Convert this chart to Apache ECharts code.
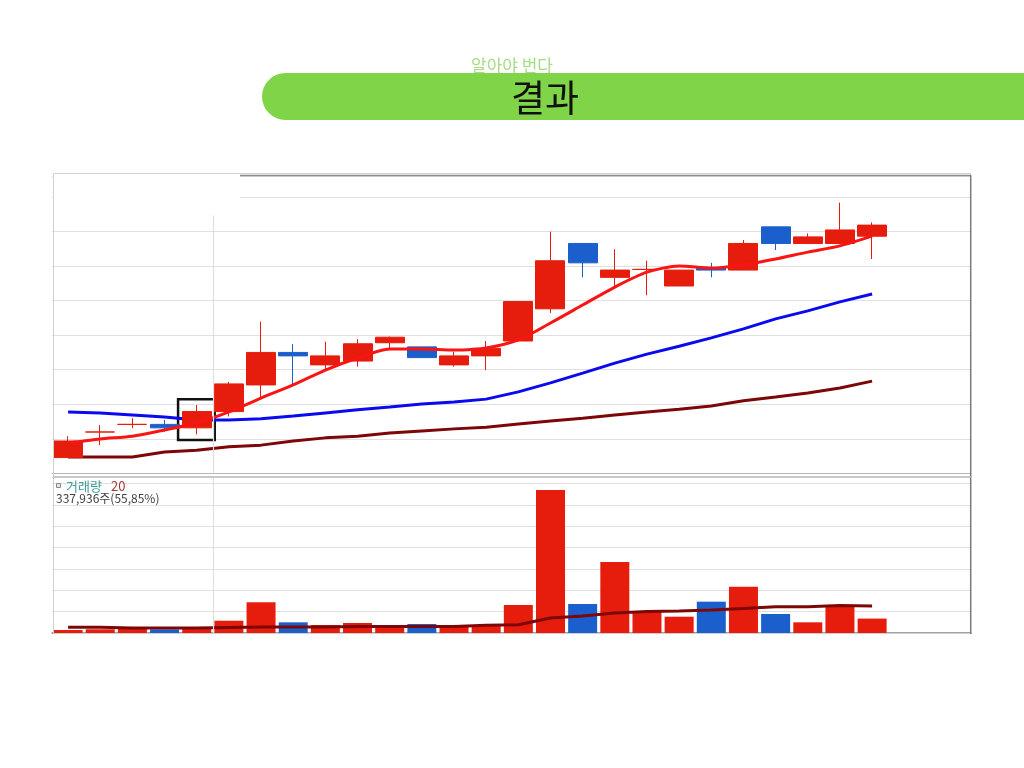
<!DOCTYPE html>
<html><head><meta charset="utf-8">
<script src="https://cdn.jsdelivr.net/npm/echarts@6/dist/echarts.min.js"></script>
<style>html,body{margin:0;padding:0;background:#fff}#c{width:1024px;height:768px}</style>
</head><body><div id="c"></div>
<script>
// ---- data ----
const days   = [0,1,2,3,4,5,6,7,8,9,10,11,12,13,14,15,16,17,18,19,20,21,22,23,24,25];
const opens  = [4046,4120,4142,4142,4132,4179,4256,4350,4314,4325,4378,4366,4314,4340,4383,4476,4665,4567,4590,4542,4593,4588,4713,4665,4665,4686];
const closes = [4094,4120,4142,4132,4179,4259,4350,4340,4340,4375,4394,4335,4340,4362,4497,4615,4609,4588,4590,4588,4588,4665,4665,4684,4704,4718];
const lows   = [4046,4082,4131,4121,4113,4165,4217,4256,4299,4309,4359,4335,4309,4299,4383,4464,4567,4538,4515,4542,4567,4588,4646,4665,4665,4620];
const highs  = [4108,4140,4160,4155,4198,4265,4439,4374,4381,4388,4396,4366,4352,4383,4497,4699,4665,4648,4615,4588,4609,4675,4713,4694,4783,4726];
const ma5    = [4088,4100,4108,4126,4146,4178,4218,4256,4299,4334,4360,4360,4357,4363,4386,4435,4487,4539,4582,4600,4594,4603,4620,4640,4658,4686];
const ma20   = [4178,4175,4169,4163,4155,4155,4158,4166,4175,4184,4192,4201,4207,4215,4236,4262,4290,4319,4345,4368,4392,4418,4447,4470,4496,4519];
const ma60   = [4048,4048,4048,4062,4067,4077,4082,4094,4103,4108,4117,4123,4129,4134,4143,4152,4160,4169,4178,4186,4195,4210,4221,4233,4247,4267];
const volumes = [70000,87000,110000,85000,110000,288000,720000,250000,188000,235000,164000,211000,164000,188000,656000,3352000,680000,1664000,500000,382000,734000,1085000,445000,250000,656000,337936];
const volMa20 = [134000,134000,117000,117000,117000,129000,141000,141000,141000,152000,152000,152000,152000,180000,195000,352000,399000,469000,504000,516000,539000,574000,617000,617000,645000,633000];
const boxedDay = 4;
const volumeLabel = '337,936주(55,85%)';

const UP = '#e61c0c', DOWN = '#1b5fcc';
const FONT = '"Noto Sans CJK KR", "Noto Sans", sans-serif';

// candle direction (same rule ECharts uses)
function isUp(i){
  if (closes[i] > opens[i]) return true;
  if (closes[i] < opens[i]) return false;
  return i === 0 ? true : closes[i-1] <= closes[i];
}
const candleData = days.map((d,i)=>[d, opens[i], closes[i], lows[i], highs[i]]);
const volData = days.map((d,i)=>({value:[d, volumes[i]], itemStyle:{color: isUp(i)?UP:DOWN}}));
const pair = arr => days.map((d,i)=>[d, arr[i]]);

const chart = echarts.init(document.getElementById('c'));
const xBase = {type:'value', min:-0.5, max:28.075, axisLabel:{show:false}, axisTick:{show:false}, splitLine:{show:false}};
chart.setOption({
  animation:false,
  backgroundColor:'#fff',
  grid:[
    {left:52, right:53, top:176, height:297.5},
    {left:52, right:53, top:477, height:156}
  ],
  xAxis:[
    Object.assign({gridIndex:0, axisLine:{show:true, lineStyle:{color:'#b4b4b4', width:1.2}}}, xBase),
    Object.assign({gridIndex:1, axisLine:{show:true, lineStyle:{color:'#858585', width:1.5}}}, xBase)
  ],
  yAxis:[
    {gridIndex:0, type:'value', min:4000, max:4860, interval:100, axisLine:{show:false}, axisTick:{show:false}, axisLabel:{show:false},
     splitLine:{lineStyle:{color:'#e0e0e0', width:1.2}}},
    {gridIndex:1, type:'value', min:0, max:3656000, interval:500000, axisLine:{show:false}, axisTick:{show:false}, axisLabel:{show:false},
     splitLine:{lineStyle:{color:'#e0e0e0', width:1.2}}}
  ],
  series:[
    {type:'line', xAxisIndex:0, yAxisIndex:0, data:pair(ma60), symbol:'none', lineStyle:{color:'#7d0707', width:3}, z:2},
    {type:'line', xAxisIndex:0, yAxisIndex:0, data:pair(ma20), symbol:'none', lineStyle:{color:'#0a0aee', width:3}, z:2},
    {type:'candlestick', xAxisIndex:0, yAxisIndex:0, data:candleData, encode:{x:0, y:[1,2,3,4]}, barWidth:29.5,
     itemStyle:{color:UP, color0:DOWN, borderColor:UP, borderColor0:DOWN, borderWidth:1},
     markLine:{silent:true, symbol:'none', label:{show:false}, lineStyle:{color:'#dedede', width:1.2, type:'solid'}, data:[{xAxis:boxedDay+0.5}]},
     markArea:{silent:true, itemStyle:{color:'rgba(0,0,0,0)', borderColor:'#111', borderWidth:2.5},
       data:[[{coord:[boxedDay-0.58, lows[boxedDay]-16]},{coord:[boxedDay+0.56, highs[boxedDay]+17]}]]}, z:3},
    {type:'line', xAxisIndex:0, yAxisIndex:0, data:pair(ma5), symbol:'none', smooth:0.25, lineStyle:{color:'#fa1414', width:3}, z:4},
    {type:'bar', xAxisIndex:1, yAxisIndex:1, data:volData, barWidth:29,
     markLine:{silent:true, symbol:'none', label:{show:false}, lineStyle:{color:'#dedede', width:1.2, type:'solid'}, data:[{xAxis:boxedDay+0.5}]}, z:2},
    {type:'line', xAxisIndex:1, yAxisIndex:1, data:pair(volMa20), symbol:'none', lineStyle:{color:'#7d0707', width:3}, z:4}
  ],
  graphic:[
    {type:'text', x:512, y:66, z:1, style:{text:'알아야 번다', fill:'#a6dc86', font:'17px '+FONT, textAlign:'center', textVerticalAlign:'middle'}},
    {type:'rect', z:2, shape:{x:262, y:73, width:800, height:47, r:[23.5,0,0,23.5]}, style:{fill:'#7fd447'}},
    {type:'text', x:545, y:98, z:3, style:{text:'결과', fill:'#111', font:'37px '+FONT, textAlign:'center', textVerticalAlign:'middle'}},
    {type:'rect', z:100, shape:{x:53.5, y:173.5, width:186.5, height:42}, style:{fill:'#fff'}},
    {type:'rect', z:101, shape:{x:53.5, y:173.5, width:917, height:460}, style:{fill:null, stroke:'#d0d0d0', lineWidth:1}},
    {type:'line', z:101, shape:{x1:240, y1:175.5, x2:971, y2:175.5}, style:{stroke:'#8a8a8a', lineWidth:1.5}},
    {type:'line', z:101, shape:{x1:970.7, y1:175, x2:970.7, y2:634}, style:{stroke:'#7a7a7a', lineWidth:1.5}},
    {type:'line', z:101, shape:{x1:53, y1:476.8, x2:971, y2:476.8}, style:{stroke:'#b4b4b4', lineWidth:1.3}},
    {type:'rect', z:101, shape:{x:56.5, y:483.5, width:4, height:4}, style:{fill:'#e4e4e4', stroke:'#8a8a8a', lineWidth:1}},
    {type:'text', z:101, x:66, y:486, style:{text:'거래량', fill:'#3d9c9c', font:'13px '+FONT, textVerticalAlign:'middle'}},
    {type:'text', z:101, x:111, y:486, style:{text:'20', fill:'#a83a3a', font:'13px '+FONT, textVerticalAlign:'middle'}},
    {type:'text', z:101, x:56, y:498, style:{text:volumeLabel, fill:'#404040', font:'12px '+FONT, textVerticalAlign:'middle'}}
  ]
});
</script></body></html>
